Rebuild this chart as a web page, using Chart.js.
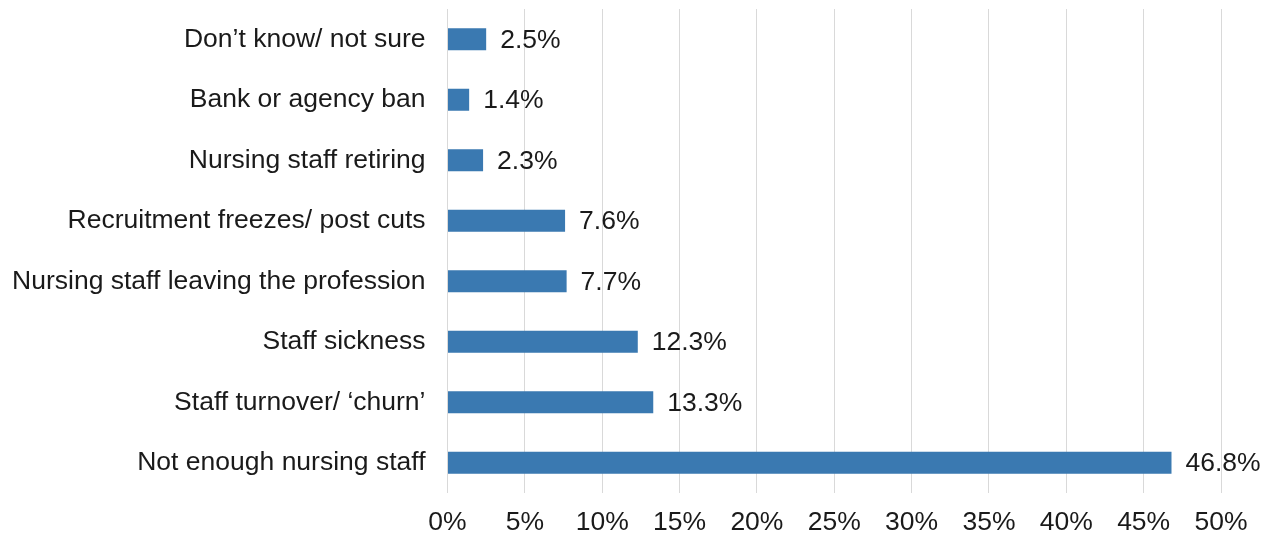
<!DOCTYPE html>
<html>
<head>
<meta charset="utf-8">
<script src="https://cdn.jsdelivr.net/npm/chart.js@4/dist/chart.umd.min.js"></script>
<style>
  html, body { margin: 0; padding: 0; background: #ffffff; }
  #wrap { width: 1274px; height: 539px; position: relative; }
</style>
</head>
<body>
<div id="wrap"><canvas id="chart"></canvas></div>
<script>
// Reasons given for staffing pressures (share of respondents, %)
const categories = [
  "Don\u2019t know/ not sure",
  "Bank or agency ban",
  "Nursing staff retiring",
  "Recruitment freezes/ post cuts",
  "Nursing staff leaving the profession",
  "Staff sickness",
  "Staff turnover/ \u2018churn\u2019",
  "Not enough nursing staff"
];
const shares = [2.5, 1.4, 2.3, 7.6, 7.7, 12.3, 13.3, 46.8];
const axisTicks = [0, 5, 10, 15, 20, 25, 30, 35, 40, 45, 50];

const FONT = { family: "'Liberation Sans', Arial, sans-serif", size: 26.5 };
const TEXT_COLOR = "#1a1a1a";

// Draws the percentage next to the end of each bar
const valueLabels = {
  id: "valueLabels",
  afterDatasetsDraw(chart) {
    const { ctx } = chart;
    const meta = chart.getDatasetMeta(0);
    ctx.save();
    ctx.font = FONT.size + "px " + FONT.family;
    ctx.fillStyle = TEXT_COLOR;
    ctx.textAlign = "left";
    ctx.textBaseline = "middle";
    meta.data.forEach((bar, i) => {
      ctx.fillText(shares[i].toFixed(1) + "%", bar.x + 14, bar.y + 1);
    });
    ctx.restore();
  }
};

new Chart(document.getElementById("chart"), {
  type: "bar",
  data: {
    labels: categories,
    datasets: [{
      data: shares,
      backgroundColor: "#3a79b1",
      borderWidth: 0,
      categoryPercentage: 1,
      barPercentage: 0.36
    }]
  },
  options: {
    indexAxis: "y",
    responsive: true,
    maintainAspectRatio: false,
    animation: false,
    layout: { padding: { top: 9, right: 53, left: 0, bottom: 0 } },
    plugins: {
      legend: { display: false },
      tooltip: { enabled: false }
    },
    scales: {
      x: {
        min: 0,
        max: 50,
        afterBuildTicks(scale) {
          scale.ticks = axisTicks.map(v => ({ value: v }));
        },
        afterFit(scale) {
          scale.height = 46;
          scale.paddingLeft = 0;
          scale.paddingRight = 0;
        },
        grid: { color: "#d9d9d9", lineWidth: 1, drawTicks: false },
        border: { display: false },
        ticks: {
          color: TEXT_COLOR,
          font: FONT,
          padding: 14,
          maxRotation: 0,
          callback: v => v + "%"
        }
      },
      y: {
        afterFit(scale) {
          scale.width = 447.5;
          scale.paddingTop = 0;
          scale.paddingBottom = 0;
        },
        grid: { display: false, drawTicks: false },
        border: { display: false },
        ticks: {
          color: TEXT_COLOR,
          font: FONT,
          padding: 22
        }
      }
    }
  },
  plugins: [valueLabels]
});
</script>
</body>
</html>
